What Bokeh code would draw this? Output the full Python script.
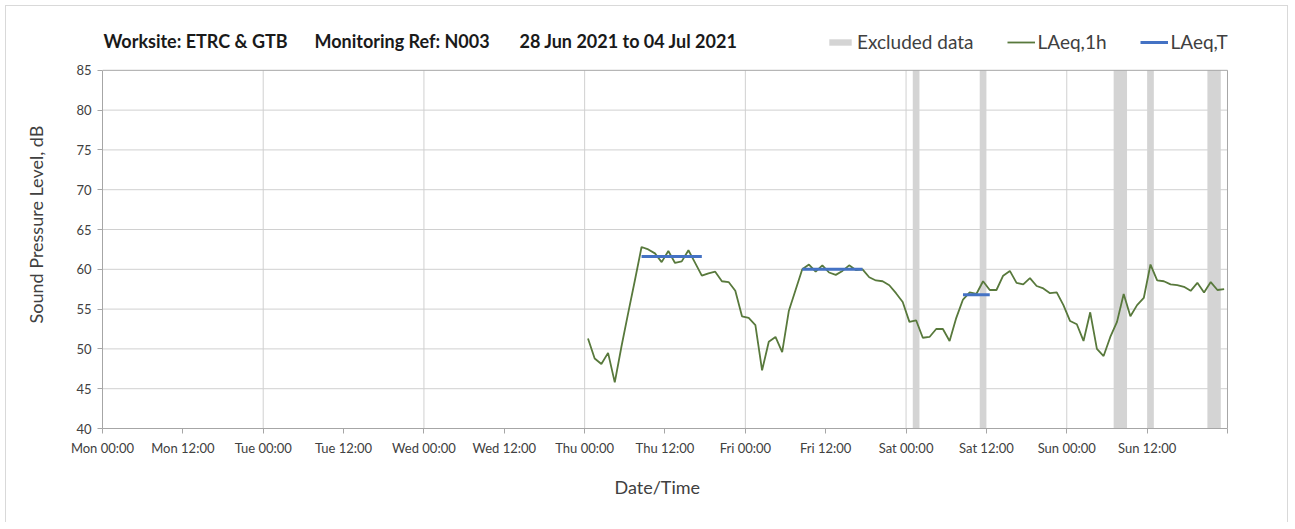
from bokeh.plotting import figure
from bokeh.models import FixedTicker, Range1d, Label, Legend, LegendItem, Title
from bokeh.embed import file_html
from bokeh.resources import INLINE

# ---- data ----
title_parts = ["Worksite: ETRC & GTB", "Monitoring Ref: N003", "28 Jun 2021 to 04 Jul 2021"]

tick_hours = [0, 12, 24, 36, 48, 60, 72, 84, 96, 108, 120, 132, 144, 156, 168]
tick_labels = ["Mon 00:00", "Mon 12:00", "Tue 00:00", "Tue 12:00", "Wed 00:00",
               "Wed 12:00", "Thu 00:00", "Thu 12:00", "Fri 00:00", "Fri 12:00",
               "Sat 00:00", "Sat 12:00", "Sun 00:00", "Sun 12:00", ""]
day_bounds = [24, 48, 72, 96, 120, 144]
y_ticks = [40, 45, 50, 55, 60, 65, 70, 75, 80, 85]

# LAeq,1h hourly values from Thu 00:00 (plotted at mid-hour)
laeq_1h_start = 72.5
laeq_1h = [
    # Thu
    51.3, 48.8, 48.1, 49.5, 45.8, 50.3, 54.5, 58.6, 62.8, 62.5, 62.0, 60.9,
    62.3, 60.8, 61.0, 62.4, 60.8, 59.2, 59.5, 59.7, 58.5, 58.4, 57.3, 54.1,
    # Fri
    53.9, 53.0, 47.3, 50.9, 51.5, 49.6, 54.8, 57.4, 60.0, 60.6, 59.7, 60.5,
    59.6, 59.3, 59.8, 60.5, 59.9, 60.0, 59.0, 58.6, 58.5, 58.0, 57.0, 55.9,
    # Sat
    53.4, 53.6, 51.4, 51.5, 52.5, 52.5, 51.0, 53.9, 56.2, 57.1, 56.9, 58.5,
    57.4, 57.4, 59.2, 59.8, 58.3, 58.1, 58.9, 57.9, 57.6, 57.0, 57.1, 55.5,
    # Sun
    53.5, 53.1, 51.0, 54.6, 50.0, 49.1, 51.5, 53.4, 56.9, 54.1, 55.5, 56.4,
    60.6, 58.6, 58.5, 58.1, 58.0, 57.8, 57.3, 58.3, 57.1, 58.4, 57.4, 57.5,
]
laeq_1h_x = [laeq_1h_start + i for i in range(len(laeq_1h))]

# LAeq,T periods
laeq_t_start = [80.5, 104.5, 128.5]
laeq_t_end = [89.5, 113.5, 132.5]
laeq_t_val = [61.6, 60.0, 56.8]

# Excluded data periods (hours from Mon 00:00)
excl_start = [121, 131, 151, 156, 165]
excl_end = [122, 132, 153, 157, 167]

X_MIN, X_MAX = 0, 168
Y_MIN, Y_MAX = 40, 85

FONT = "Lato"
TXT = "#404040"
GRID = "#d0d0d0"
AXIS = "#a6a6a6"

# frame extends above 85 dB and right of Sun 24:00 to hold title and legend
p = figure(width=1283, height=517, x_range=Range1d(X_MIN, 172.93), y_range=Range1d(Y_MIN, 91.26),
           output_backend="svg", toolbar_location=None,
           min_border_left=96, min_border_right=29, min_border_top=14, min_border_bottom=95,
           background_fill_color="white", border_fill_color="white")
p.outline_line_color = None
p.styles = {"margin-left": "5px", "margin-top": "5px",
            "border-left": "1px solid #d9d9d9", "border-top": "1px solid #d9d9d9",
            "border-right": "1px solid #d9d9d9"}

# axes
p.xaxis.ticker = FixedTicker(ticks=tick_hours)
p.xaxis.major_label_overrides = {h: l for h, l in zip(tick_hours, tick_labels)}
p.xaxis.bounds = (X_MIN, X_MAX)
p.yaxis.ticker = FixedTicker(ticks=y_ticks)
p.yaxis.bounds = (Y_MIN, Y_MAX)
for ax in (p.xaxis[0], p.yaxis[0]):
    ax.axis_line_color = AXIS
    ax.major_tick_line_color = AXIS
    ax.minor_tick_line_color = None
    ax.major_tick_out = 5
    ax.major_tick_in = 0
    ax.major_label_text_font = FONT
    ax.major_label_text_font_size = "13px"
    ax.major_label_text_color = TXT
    ax.axis_label_text_font = FONT
    ax.axis_label_text_font_size = "18px"
    ax.axis_label_text_font_style = "normal"
    ax.axis_label_text_color = TXT
p.yaxis.axis_label = "Sound Pressure Level, dB"
p.xaxis.major_label_standoff = 6
p.yaxis.major_label_standoff = 6
p.yaxis.axis_label_standoff = 26

# x-axis title, centred under the Mon-Sun span (not the widened frame)
p.add_layout(Title(text="Date/Time", align="left", offset=512, standoff=30,
                   text_font=FONT, text_font_size="18px", text_font_style="normal",
                   text_color=TXT), "below")

# grids (drawn as segments, limited to the plot area)
p.xgrid.visible = False
p.ygrid.visible = False
h_grid = y_ticks[1:-1]
p.segment(x0=day_bounds, x1=day_bounds, y0=Y_MIN, y1=Y_MAX, line_color=GRID, line_width=1)
p.segment(x0=X_MIN, x1=X_MAX, y0=h_grid, y1=h_grid, line_color=GRID, line_width=1)

# glyphs
r_excl = p.quad(left=excl_start, right=excl_end, bottom=Y_MIN, top=Y_MAX,
                fill_color="#d4d4d4", line_color=None)
r_1h = p.line(laeq_1h_x, laeq_1h, line_color="#58793c", line_width=1.8)
r_t = p.segment(x0=laeq_t_start, x1=laeq_t_end, y0=laeq_t_val, y1=laeq_t_val,
                line_color="#4472c4", line_width=3)

# plot-area border (top and right)
p.segment(x0=[X_MIN, X_MAX], x1=[X_MAX, X_MAX], y0=[Y_MAX, Y_MIN], y1=[Y_MAX, Y_MAX],
          line_color=AXIS, line_width=1)

legend = Legend(items=[LegendItem(label="Excluded data", renderers=[r_excl]),
                       LegendItem(label="LAeq,1h", renderers=[r_1h]),
                       LegendItem(label="LAeq,T", renderers=[r_t])],
                orientation="horizontal", location=(724, 375),
                border_line_color=None, background_fill_alpha=0,
                padding=0, margin=0, spacing=33, glyph_width=28, glyph_height=8,
                label_standoff=3, label_text_font=FONT, label_text_font_size="19px",
                label_text_color=TXT, label_height=20)
p.add_layout(legend)

title_x = [1, 212, 417]
for tx, tt in zip(title_x, title_parts):
    p.add_layout(Label(x=tx, y=88.7, x_units="screen", y_units="data", text=tt,
                       text_font=FONT, text_font_style="bold", text_font_size="18px",
                       text_baseline="middle", text_color="#1a1a1a"))

with open("out.html", "w") as f:
    f.write(file_html(p, INLINE))
